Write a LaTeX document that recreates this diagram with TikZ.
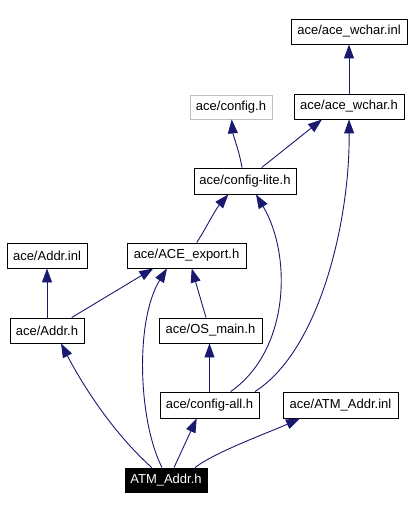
\documentclass[tikz,border=0pt]{standalone}
\usepackage{fontspec}
\setmainfont{Liberation Sans}
\usetikzlibrary{arrows.meta}
\definecolor{edgeblue}{HTML}{191970}
\definecolor{graybox}{HTML}{BFBFBF}
\begin{document}
\begin{tikzpicture}[x=1pt,y=-1pt,
  box/.style={draw=black,line width=0.9pt,fill=white,inner sep=0pt,minimum height=25pt,
    font=\fontsize{13}{15}\selectfont},
  grayboxst/.style={box,draw=graybox},
  rootbox/.style={box,fill=black,text=white},
  edge/.style={draw=edgeblue,line width=0.9pt,-{Triangle[length=14pt,width=10pt]}}]
\useasboundingbox (0,0) rectangle (414,510);
\node[box,minimum width=116pt] (wcharinl) at (349,31.5) {ace/ace\_wchar.inl};
\node[grayboxst,minimum width=82pt,minimum height=24pt] (config) at (231,107) {ace/config.h};
\node[box,minimum width=110pt] (wchar) at (349,106.5) {ace/ace\_wchar.h};
\node[box,minimum width=102pt,minimum height=26pt] (lite) at (245,181) {ace/config-lite.h};
\node[box,minimum width=80pt] (addrinl) at (47,255.5) {ace/Addr.inl};
\node[box,minimum width=119pt] (export) at (186.5,255.5) {ace/ACE\_export.h};
\node[box,minimum width=74pt] (addrh) at (47,330.5) {ace/Addr.h};
\node[box,minimum width=103pt] (osmain) at (210.5,330.5) {ace/OS\_main.h};
\node[box,minimum width=99pt,minimum height=26pt] (configall) at (209.5,405) {ace/config-all.h};
\node[box,minimum width=115pt,minimum height=26pt] (atminl) at (340.5,405) {ace/ATM\_Addr.inl};
\node[rootbox,minimum width=82pt,minimum height=24pt] (atmh) at (166,480) {ATM\_Addr.h};

\draw[edge] (wchar.north) -- (wcharinl.south);
\draw[edge] ([xshift=-3]lite.north) .. controls (239,150) and (233,135) .. ([xshift=0.7]config.south);
\draw[edge] ([xshift=16.7]lite.north) -- ([xshift=-27]wchar.south);
\draw[edge] ([xshift=45.5]configall.north) .. controls (320,350) and (350,220) .. (wchar.south);
\draw[edge] ([xshift=21.2]configall.north) .. controls (290,350) and (292,255) .. ([xshift=11]lite.south);
\draw[edge] ([xshift=10.2]export.north) .. controls (205,230) and (215,210) .. ([xshift=-16.7]lite.south);
\draw[edge] ([xshift=24.7]addrh.north) -- ([xshift=-33.2]export.south);
\draw[edge] (addrh.north) -- (addrinl.south);
\draw[edge] ([xshift=-4.5]osmain.north) -- ([xshift=5.2]export.south);
\draw[edge] (configall.north) -- (configall.north |- osmain.south);
\draw[edge] ([xshift=-14.3]atmh.north) .. controls (110,430) and (80,380) .. ([xshift=14]addrh.south);
\draw[edge] ([xshift=-4]atmh.north) .. controls (138,420) and (135,320) .. ([xshift=-19.5]export.south);
\draw[edge] ([xshift=8]atmh.north) -- ([xshift=-12.8]configall.south);
\draw[edge] ([xshift=29]atmh.north) .. controls (215,452) and (270,432) .. ([xshift=-40.5]atminl.south);
\end{tikzpicture}
\end{document}
